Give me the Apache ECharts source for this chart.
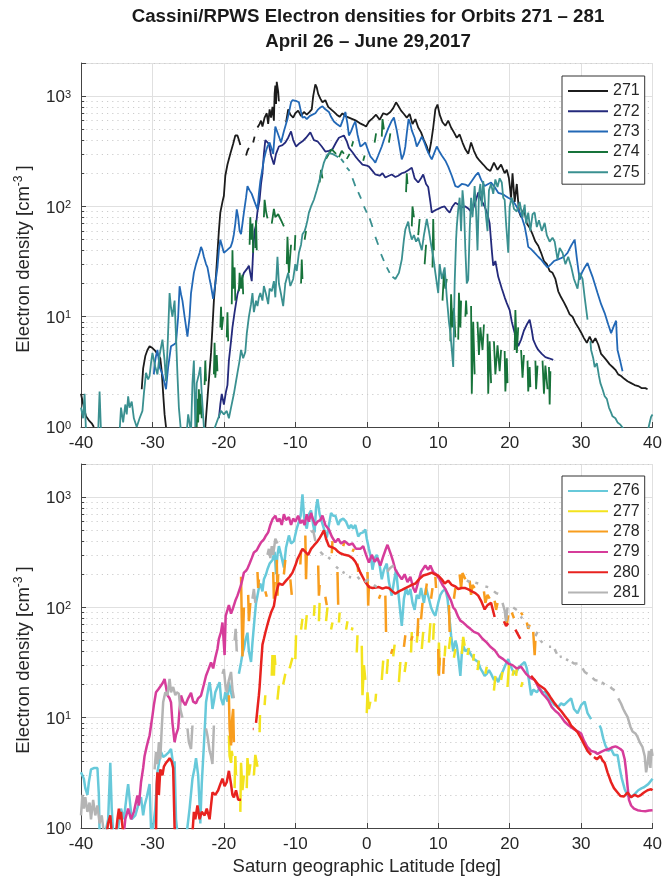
<!DOCTYPE html>
<html>
<head>
<meta charset="utf-8">
<script src="https://cdn.jsdelivr.net/npm/echarts@6/dist/echarts.min.js"></script>
<style>
  html, body { margin: 0; padding: 0; background: #fff; }
  #chart { width: 665px; height: 879px; }
</style>
</head>
<body>
<div id="chart"></div>
<script>
// orbit names, one panel each
var topOrbits = ['271', '272', '273', '274', '275'];
var botOrbits = ['276', '277', '278', '279', '280', '281'];
var orbitColors = {
  '271': '#1c1c1c', '272': '#242a7c', '273': '#2268b6', '274': '#17733a', '275': '#3a9090',
  '276': '#67c9da', '277': '#f3e31e', '278': '#f89d1e', '279': '#d63c9a', '280': '#e8221f', '281': '#b4b4b4'
};
var xTicks = [-40, -30, -20, -10, 0, 10, 20, 30, 40];
var minorVals = [2, 3, 4, 5, 6, 7, 8, 9, 20, 30, 40, 50, 60, 70, 80, 90, 200, 300, 400, 500, 600, 700, 800, 900, 2000];

// [latitude deg, electron density cm^-3], null = data gap
var ne271 = [[-40,2.0],[-39.6,1.5],[-39.3,1.25],[-38.9,1.15],[-38.5,1.08],[-38.2,1.0],null,
[-31.5,2.2],[-31.3,3.4],[-31.0,4.4],[-30.7,5.0],[-30.4,5.4],[-30.0,5.2],[-29.6,4.9],[-29.2,4.5],[-28.9,4.2],[-28.7,3.2],[-28.5,2.0],[-28.3,1.3],[-28.1,1.0],null,
[-22.6,1.0],[-22.2,2.2],[-21.8,4.7],[-21.6,8],[-21.4,14],[-21.1,24],[-20.9,38],[-20.7,60],[-20.5,88],[-20.2,110],[-20.0,125],[-19.8,190],[-19.5,240],[-19.1,300],[-18.7,370],[-18.4,440],[-18.1,440],[-17.9,400],[-17.7,360],null,
[-16.9,290],[-16.7,320],[-16.5,340],null,[-15.9,380],[-15.7,430],null,
[-15.3,520],[-15.0,560],[-14.8,600],[-14.6,530],[-14.3,640],[-14.0,700],[-13.8,560],[-13.6,760],[-13.4,640],[-13.2,800],[-13.0,600],[-12.9,1050],[-12.8,1250],[-12.7,850],[-12.6,1350],[-12.4,1100],[-12.3,900],null,
[-11.3,580],[-11.0,760],[-10.7,680],[-10.3,640],[-10.0,700],[-9.6,740],[-9.2,660],[-8.8,720],[-8.4,680],[-8.0,720],[-7.7,760],[-7.5,1000],[-7.2,1280],[-7.0,1200],[-6.8,1050],[-6.5,950],[-6.2,880],[-5.8,920],[-5.4,800],[-5.0,760],[-4.6,720],[-4.2,680],[-3.8,650],[-3.4,700],[-3.0,660],[-2.5,640],[-2.0,620],[-1.5,600],[-1.0,570],[-0.5,550],[-0.1,530],[0.3,590],[0.8,630],[1.3,680],[1.8,610],[2.3,700],[2.8,680],[3.3,720],[3.7,780],[4.1,880],[4.4,820],[4.8,740],[5.2,690],[5.6,640],[6.0,690],[6.4,560],[6.8,620],[7.2,520],[7.6,470],[8.0,400],[8.4,350],[8.7,300],[9.0,380],[9.3,520],[9.6,760],[9.9,840],[10.2,680],[10.6,580],[11.0,540],[11.4,600],[11.8,520],[12.2,470],[12.6,420],[13.0,450],[13.4,380],[13.8,330],[14.2,300],[14.6,380],[15.0,320],[15.4,280],[15.8,260],[16.3,240],[16.8,220],[17.3,210],[17.8,250],[18.3,215],[18.8,240],[19.3,200],[19.6,215],[19.9,180],[20.2,120],[20.4,200],[20.7,110],[21.0,160],[21.3,90],[21.6,80],[22.0,95],[22.4,70],[22.8,64],[23.2,56],[23.6,48],[24.0,44],[24.4,38],[24.8,32],[25.2,30],[25.6,26],[26.0,25],[26.4,22],[26.8,17],[27.2,15],[27.6,13.5],[28.0,12],[28.4,10.5],[28.8,10],[29.2,8.8],[29.6,8],[30.0,7.2],[30.4,6.4],[30.8,5.8],[31.2,6.6],[31.6,5.8],[32.0,6.4],[32.4,5.6],[32.8,4.6],[33.2,4.3],[33.6,4.0],[34.0,3.7],[34.4,3.5],[34.8,3.3],[35.2,3.0],[35.6,2.9],[36.0,2.75],[36.5,2.6],[37.0,2.5],[37.5,2.4],[38.0,2.35],[38.5,2.25],[39.0,2.25],[39.3,2.2]];

var ne272 = [[-20.7,1.2],[-20.5,1.6],[-20.3,2.0],[-20.0,1.6],[-19.7,2.1],[-19.5,2.4],[-19.3,4.0],[-19.0,6.0],[-18.8,8.0],[-18.5,11],[-18.1,16],[-17.7,20],[-17.2,25],[-16.8,27],[-16.5,29],[-16.1,21],[-15.9,40],[-15.7,60],[-15.5,68],[-15.3,90],[-15.0,115],[-14.8,160],[-14.6,200],[-14.4,300],[-14.2,400],[-14.0,390],[-13.7,370],[-13.4,290],[-13.0,240],[-12.7,300],[-12.3,350],[-11.8,360],[-11.4,380],[-11.0,420],[-10.6,480],[-10.3,400],[-9.9,350],[-9.5,370],[-9.0,390],[-8.5,420],[-7.9,470],[-7.4,400],[-6.9,390],[-6.3,350],[-5.8,315],[-5.3,320],[-4.8,330],[-4.3,380],[-3.9,420],[-3.2,440],[-2.8,390],[-2.5,340],[-2.0,310],[-1.6,285],[-1.1,260],[-0.6,240],[0.0,235],[0.3,230],[0.8,210],[1.2,195],[1.8,190],[2.2,200],[2.6,183],[3.1,190],[3.5,195],[4.0,185],[4.4,190],[4.9,200],[5.4,205],[5.9,215],[6.3,225],[6.7,180],[7.2,165],[7.6,180],[7.9,195],[8.3,160],[8.6,150],[8.9,110],[9.1,88],[9.5,92],[10.0,95],[10.4,98],[10.9,100],[11.3,92],[11.6,88],[12.0,100],[12.4,108],[12.8,104],[13.3,98],[13.8,100],[14.2,96],[14.7,88],[15.2,110],[15.6,134],[16.0,115],[16.5,100],[16.9,85],[17.2,70],[17.5,40],[17.7,29],[18.0,32],[18.4,23],[18.9,18],[19.3,15],[19.6,13.3],[20.0,11.5],[20.3,9],[20.7,7.1],[21.0,6],[21.2,5.4],[21.6,6.2],[22.0,7.5],[22.4,8.5],[22.8,9.4],[23.1,7.5],[23.3,6.2],[23.7,5.4],[24.0,5.0],[24.5,4.6],[25.0,4.3],[25.5,4.2],[26.1,4.06]];

var ne273 = [[-29.8,3.0],[-29.7,3.7],[-29.5,4.4],[-29.3,5.0],[-29.1,4.0],[-29.0,3.5],[-28.6,3.0],[-28.1,2.2],[-27.8,3.5],[-27.4,5.4],[-27.0,5.6],[-26.7,5.8],[-26.4,10],[-26.2,18.9],[-26.0,16],[-25.8,14],[-25.5,10],[-25.1,6.6],[-24.8,10],[-24.6,16.4],[-24.2,25],[-23.9,30],[-23.7,33],[-23.4,38],[-23.2,43],[-23.0,40],[-22.8,35],[-22.5,30],[-22.3,28],[-22.0,22],[-21.8,19],[-21.5,14.5],[-21.2,20],[-20.9,28],[-20.7,40],[-20.5,50],[-20.3,45],[-20.0,38],[-19.6,40],[-19.05,43],[-18.8,48],[-18.6,56],[-18.4,70],[-18.2,94],[-18.0,80],[-17.8,60],[-17.6,56],[-17.4,70],[-17.2,88],[-16.9,120],[-16.7,153],[-16.4,140],[-16.1,130],[-15.7,110],[-15.3,94],[-15.1,130],[-14.9,170],[-14.6,220],[-14.4,267],[-14.1,320],[-13.9,350],[-13.6,380],[-13.4,370],[-13.1,300],[-12.8,530],[-12.4,450],[-12.0,380],[-11.6,480],[-11.1,620],[-10.8,760],[-10.6,880],[-10.4,920],[-10.2,950],[-9.8,900],[-9.5,880],[-9.2,720],[-9.0,640],[-8.7,650],[-8.4,620],[-8.0,660],[-7.6,680],[-7.2,700],[-6.8,760],[-6.5,790],[-6.2,810],[-5.8,760],[-5.3,720],[-5.0,650],[-4.6,590],[-4.2,560],[-3.7,530],[-3.3,620],[-3.0,720],[-2.7,560],[-2.5,440],[-2.2,480],[-1.9,540],[-1.6,590],[-1.3,450],[-0.9,350],[-0.6,360],[-0.2,380],[0.2,320],[0.5,285],[0.9,265],[1.2,250],[1.6,290],[2.1,350],[2.5,420],[3.0,510],[3.5,600],[3.8,640],[4.0,660],[4.2,490],[4.5,380],[4.9,267],[5.2,300],[5.4,350],[5.6,460],[5.85,620],[6.1,560],[6.3,490],[6.7,420],[7.0,350],[7.3,380],[7.7,430],[8.0,390],[8.4,330],[8.8,290],[9.1,267],[9.4,300],[9.8,350],[10.1,320],[10.5,290],[11.0,260],[11.4,230],[11.9,190],[12.4,153],[12.8,150],[13.3,160],[13.8,158],[14.2,153],[14.7,170],[15.2,190],[15.6,203],[16.0,175],[16.5,153],[17.0,160],[17.4,165],[17.9,150],[18.4,133],[18.9,130],[19.3,126],[19.8,120],[20.3,115],[20.8,104],[21.2,94],[21.7,80],[22.1,66],[22.4,52],[22.6,43],[23.0,41],[23.5,38],[24.0,35],[24.4,33],[24.9,30],[25.3,28],[25.8,30],[26.2,32],[26.7,33],[27.2,34],[27.6,35],[28.1,38],[28.6,44],[29.1,50],[29.4,34],[29.8,21.6],[30.1,25],[30.5,28],[30.9,30.7],[31.2,27],[31.6,23],[32.0,19],[32.3,16.4],[32.8,13],[33.3,10.8],[33.8,8.5],[34.2,7.1],[34.6,8.3],[34.9,9.2],[35.0,6.5],[35.1,5.0],[35.5,3.9],[35.8,3.2]];

var ne274 = [[-23.8,1.0],[-23.7,1.8],[-23.6,1.1],[-23.5,2.2],[-23.4,1.3],[-23.3,2.0],[-23.1,1.2],null,
[-22.7,2.4],[-22.6,4.0],[-22.5,2.6],null,[-21.4,3.0],[-21.3,5.8],[-21.2,2.8],[-21.0,4.5],[-20.9,3.2],null,
[-20.5,8],[-20.4,12.3],[-20.3,7.6],[-20.1,10],null,[-19.6,6.5],[-19.5,11],[-19.4,6],null,
[-18.9,13],[-18.8,40],[-18.7,18],[-18.5,28],[-18.4,14],null,[-17.9,17],[-17.8,25],[-17.6,18],[-17.4,24],[-17.3,16],null,
[-16.4,45],[-16.3,80],[-16.2,50],[-16.0,70],[-15.9,38],null,[-15.6,42],[-15.5,75],[-15.4,40],null,
[-14.4,80],[-14.3,115],[-14.1,90],[-13.9,78],null,[-13.3,70],[-13.0,95],[-12.8,80],[-12.4,85],[-12.0,75],[-11.6,66],null,
[-11.2,30],[-11.1,53],[-10.9,25],[-10.6,45],null,[-10.1,40],[-10.0,55],null,[-9.2,20],[-9.1,33],[-9.0,22],null,[-8.7,50],[-8.5,60],null,
[-6.6,165],[-6.4,215],[-6.2,180],null,[-5.7,270],[-5.3,300],[-4.9,330],[-4.5,310],[-4.3,300],null,[-3.9,280],[-3.5,320],[-3.2,300],null,
[-2.8,270],[-2.4,300],null,[-2.1,350],[-1.9,390],null,[-0.5,260],[-0.3,290],null,[1.1,380],[1.3,460],null,[2.1,430],[2.2,620],[2.4,500],null,
[3.1,380],[3.3,460],null,[5.5,135],[5.6,200],[5.7,160],null,[6.3,66],[6.4,100],[6.6,80],null,[7.2,55],[7.4,77],null,[8.1,30],[8.3,45],null,
[9.2,28],[9.3,77],[9.4,40],null,[10.6,14],[10.8,25],[11.0,18],[11.2,22],null,[11.7,6],[11.8,16],[12.0,8],[12.2,12],[12.4,6.5],null,
[12.8,6.2],[12.9,16.5],[13.1,8],[13.2,14],null,[13.8,10],[13.9,14],[14.0,10.5],null,[14.6,12.5],[14.7,2.0],[14.9,9],[15.1,3],null,
[15.5,9],[15.7,4.5],[15.9,8],[16.2,5],[16.4,8.5],null,[16.9,7],[17.0,2.0],[17.2,6],[17.4,2.5],null,[17.8,6],[18.0,3],[18.3,5.5],[18.6,3.2],[18.8,5],null,
[19.3,4.9],[19.4,2.1],[19.6,4.2],[19.7,2.5],null,[20.7,5],[20.8,11.5],[21.0,4.7],[21.2,8],null,[21.6,5],[21.8,2.8],[22.0,4.5],null,
[22.5,4],[22.6,2.1],[22.8,3.5],[22.9,2.3],null,[23.6,4],[23.7,2.2],[23.9,3.6],null,[24.6,4],[24.8,2.0],[25.0,3.6],[25.3,2.2],null,[25.5,3.5],[25.6,1.6],[25.7,3.2]];

var ne275 = [[-40,1.5],[-39.7,1.2],[-39.5,2.0],[-39.3,0.9],[-38.5,0.8],[-37.6,0.9],[-37.4,2.1],[-37.2,0.9],[-36,0.8],[-34.6,0.9],[-34.4,1.5],[-34.1,1.1],[-33.8,1.6],[-33.6,1.3],[-33.4,1.9],[-33.2,1.5],[-32.9,1.7],[-32.6,1.2],[-32.2,1.0],[-31.8,1.2],[-31.4,1.4],[-31.2,2.0],[-30.9,3.1],[-30.6,2.7],[-30.4,2.9],[-30.2,3.8],[-30.0,4.7],[-29.6,3.5],[-29.3,3.0],[-29.0,4.5],[-28.6,6.2],[-28.3,4],[-28.1,2.6],[-27.9,5],[-27.6,16.4],[-27.4,12],[-27.2,10],[-26.9,14],[-26.7,6.6],[-26.5,3],[-26.3,1.5],[-26.0,0.9],[-25.2,0.9],[-25.0,1.3],[-24.6,0.9],[-24.4,2.5],[-24.2,4],[-24.0,1.0],[-23.8,2.5],[-23.5,3.0],[-23.3,3.5],[-23.1,2.0],[-22.8,1.0],[-22.4,0.9],[-21.5,0.9],[-20.8,1.2],[-20.4,1.4],[-20.0,1.3],[-19.6,1.4],[-19.3,1.2],[-19.0,1.5],[-18.6,2.0],[-18.3,2.6],[-18.1,3.1],[-17.8,4.0],[-17.6,5.0],[-17.3,4.2],[-17.0,4.8],[-16.8,7],[-16.5,10],[-16.2,13],[-16.0,16.4],[-15.8,11],[-15.5,14],[-15.3,12.5],[-15.1,15],[-14.9,16.4],[-14.6,14],[-14.4,19],[-14.1,16],[-13.8,13],[-13.6,18],[-13.3,17],[-13.0,21],[-12.8,15],[-12.5,35],[-12.3,20],[-12.0,16],[-11.7,12.5],[-11.4,20],[-11.0,25],[-10.7,19],[-10.3,22],[-10.0,30],[-9.8,26],[-9.5,38],[-9.2,45],[-9.0,56],[-8.7,60],[-8.5,66],[-8.3,75],[-8.1,88],[-7.8,100],[-7.4,115],[-7.0,140],[-6.7,165],[-6.3,210],[-6.0,250],[-5.6,290],[-5.3,305],[-4.8,300],[-4.4,290],[-4.0,280],null,
[-3.6,270],[-3.2,250],null,[-2.8,225],[-2.4,210],null,[-2.0,180],[-1.6,153],null,[-1.2,135],[-0.8,118],null,[-0.4,100],[0.0,88],null,[0.4,78],[0.8,65],null,[1.2,53],[1.6,45],null,[2.0,37],[2.4,32],null,[2.8,28],[3.2,25],null,
[3.6,23],[4.0,22],[4.2,21.7],[4.5,25],[4.9,33],[5.2,50],[5.4,62],[5.8,73],[6.0,60],[6.3,50],[6.6,55],[6.9,48],[7.2,52],[7.7,40],[8.0,55],[8.4,77],[8.7,60],[9.0,45],[9.3,35],[9.6,25],[10.0,16.4],[10.2,30],[10.5,22],[10.9,28],[11.2,15],[11.5,9],[11.7,7.1],[11.9,5],[12.1,3.5],[12.3,20],[12.5,50],[12.6,66],[12.8,94],[13.0,120],[13.2,60],[13.4,140],[13.6,100],[13.8,40],[14.0,20],[14.2,21.7],[14.4,60],[14.6,120],[14.8,80],[15.1,153],[15.3,90],[15.5,40],[15.7,130],[15.9,160],[16.1,100],[16.3,170],[16.5,120],[16.7,80],[16.9,60],[17.1,140],[17.4,160],[17.7,130],[18.0,176],[18.3,150],[18.6,180],[18.9,165],[19.1,120],[19.3,115],[19.5,70],[19.8,38],[20.0,100],[20.3,120],[20.6,95],[21.0,90],[21.4,110],[21.8,80],[22.1,104],[22.3,70],[22.6,88],[22.9,60],[23.2,85],[23.5,88],[23.8,65],[24.1,75],[24.5,60],[24.9,71],[25.2,55],[25.6,48],[26.0,52],[26.3,48],[26.7,33],[27.0,42],[27.4,38],[27.8,30],[28.2,35],[28.6,28.6],[29.0,22],[29.5,18],[29.8,25],[30.2,22],[30.5,15],[30.9,9.4],null,
[31.3,6],[31.4,5.0],[31.7,4.2],[31.9,3.5],[32.2,3.8],[32.5,2.9],[32.7,2.5],[33.0,2.2],[33.3,1.9],[33.6,1.8],[33.9,1.5],[34.2,1.35],[34.4,1.25],[34.8,1.2],[35.1,1.1],[35.5,1.05],[36.0,0.95],[36.5,0.9],[39.3,0.9],[39.6,1.1],[39.8,1.24],[40,1.3]];

var ne276 = [[-40,3.2],[-39.6,2.8],[-39.4,2.3],[-39.1,2.0],[-38.9,2.6],[-38.6,3.4],[-38.2,3.5],[-37.7,3.5],[-37.5,2.0],[-37.4,0.9],[-36.6,0.9],[-36.2,1.2],[-35.9,3.9],[-35.7,1.5],[-35.5,0.9],[-34.8,1.0],[-34.4,1.5],[-34.0,1.2],[-33.6,2.0],[-33.4,2.5],[-33.1,1.6],[-32.9,1.2],[-32.4,1.3],[-32.0,1.6],[-31.6,1.9],[-31.3,1.3],[-31.1,1.6],[-30.8,1.9],[-30.4,2.5],[-30.2,1.0],[-30.0,0.9],[-29.6,1.5],[-29.3,3.2],[-29.0,4.2],[-28.8,4.9],[-28.5,4.4],[-28.1,4.6],[-27.8,4.8],[-27.4,5.2],[-27.1,3.8],[-26.9,4.0],[-26.7,1.2],[-26.5,0.9],[-25.2,0.9],[-24.8,1.5],[-24.4,2.8],[-24.1,3.5],[-23.9,4.3],[-23.6,3.0],[-23.4,1.6],[-23.3,1.1],[-23.1,2.5],[-22.8,5.6],[-22.6,10],[-22.5,13.8],[-22.2,18],[-22.0,21],[-21.8,17],[-21.6,12],[-21.4,14],[-21.2,17],[-20.9,19],[-20.6,21],[-20.4,15],[-20.1,13],[-19.8,17],[-19.5,14],[-19.3,21],[-19.0,17],[-18.8,15],null,
[-17.9,25],[-17.6,31.7],[-17.4,38],[-17.2,42],[-17.0,50],[-16.7,59],[-16.5,40],[-16.2,32],[-16.0,48],[-15.7,80],[-15.5,110],[-15.3,128],[-15.1,150],[-14.9,165],[-14.6,140],[-14.4,180],[-14.1,200],[-13.9,222],[-13.6,250],[-13.2,270],[-12.9,320],[-12.7,200],[-12.5,300],[-12.3,360],[-12.0,300],[-11.6,230],[-11.3,350],[-10.9,450],[-10.6,380],[-10.2,400],[-9.8,520],[-9.5,600],[-9.25,680],[-9.1,900],[-9.0,1060],[-8.8,700],[-8.7,600],[-8.4,520],[-8.1,700],[-7.8,760],[-7.5,560],[-7.3,480],[-7.1,800],[-6.9,960],[-6.6,700],[-6.3,600],[-6.0,520],[-5.6,430],[-5.3,560],[-5.0,720],[-4.7,680],[-4.4,680],[-4.0,560],[-3.7,620],[-3.3,640],[-2.9,600],[-2.5,520],[-2.2,560],[-1.9,520],[-1.6,560],[-1.2,440],[-0.9,470],[-0.5,480],[-0.2,510],[0.0,420],[0.3,340],[0.6,280],[0.8,220],[1.1,280],[1.4,300],[1.8,240],[2.1,180],[2.4,220],[2.8,250],[3.1,170],[3.5,128],[3.8,170],[4.1,220],[4.4,140],[4.7,90],[4.9,68],[5.2,120],[5.5,150],[5.8,130],[6.1,147],[6.4,110],[6.7,95],[7.0,130],[7.3,120],[7.6,150],[8.0,110],[8.3,150],[8.7,120],[9.0,100],[9.3,90],[9.6,84],[10.0,110],[10.3,130],[10.6,140],[11.0,147],[11.3,120],[11.5,90],[11.8,56],[12.1,40],[12.4,50],[12.6,45],[12.8,36],[13.1,24],[13.3,38],[13.5,45],[13.8,40],[14.2,42],[14.5,38],[14.7,39],[15.0,34],[15.3,33],[15.6,32],[15.9,28],[16.2,26],[16.5,24],[16.8,25],[17.1,27],[17.4,25],[17.8,22],[18.1,23],[18.4,21],[18.7,24],[19.0,26],[19.3,29],[19.6,32],[19.8,34],[20.1,30],[20.4,27],[20.8,25],[21.2,28],[21.6,30],[22.1,32],[22.4,28],[22.7,22],[23.0,16],[23.3,18],[23.8,17],[24.2,18.5],[24.6,17],[25.0,17],[25.4,15],[25.9,14],[26.3,13],[26.8,12.5],[27.2,13.5],[27.6,13],[28.1,14],[28.6,15],[29.0,12],[29.5,11],[30.0,13],[30.5,14],[30.9,11],[31.4,9.7],null,
[32.6,8.5],[32.8,7.9],[33.1,6.5],[33.4,5.6],[33.8,5.0],[34.2,5.2],[34.6,4.6],[35.1,4.6],[35.4,3.5],[35.7,2.8],[36.1,2.25],[36.5,1.97],[36.9,1.9],[37.4,2.0],[38.0,2.2],[38.5,2.3],[38.8,2.34],[39.4,2.5],[40,2.8]];

var ne277 = [[-19.3,6.9],[-19.2,4.5],[-19.0,3.9],[-18.9,5.0],[-18.8,4.5],null,[-18.5,2.3],[-18.4,4.5],[-18.3,3.0],null,
[-17.7,1.4],[-17.6,3.9],[-17.4,2.2],[-17.2,3.0],null,[-16.8,2.3],[-16.7,4.3],[-16.5,3.0],[-16.3,3.8],null,[-15.8,3.0],[-15.6,4.6],[-15.3,3.6],null,
[-15.0,7.4],[-14.95,10.6],null,[-14.3,13],[-14.2,16],null,[-13.3,24],[-13.2,37],null,[-13.0,24],[-12.9,37],[-12.8,30],null,[-12.5,14.6],[-12.3,19.6],null,
[-11.7,20],[-11.4,25],null,[-10.8,28],[-10.4,35],null,[-10.0,34],[-9.9,56],null,[-9.2,63],[-9.0,79],null,[-8.6,63],[-8.4,85],null,[-7.4,84],[-7.3,105],null,
[-6.7,75],[-6.6,110],null,[-5.7,75],[-5.5,100],null,[-5.0,63],[-4.8,73],null,[-3.9,73],[-3.8,90],null,[-2.9,63],[-2.7,75],null,[-2.1,62],[-2.0,66],null,
[-1.4,39],[-1.3,56],null,[-0.7,45],[-0.6,16],[-0.4,30],[-0.2,22],null,[0.0,11],[0.1,17],[0.3,12],[0.5,14],null,[1.2,14],[1.3,16.5],null,
[2.1,22],[2.3,33],null,[2.8,25],[2.95,34],null,[3.7,36],[3.9,46],null,[4.5,21],[4.7,32],null,[5.3,26],[5.5,32],null,[6.2,39],[6.3,60],null,
[7.0,48],[7.2,68],null,[7.7,42],[7.9,60],null,[8.7,48],[8.9,72],null,[9.3,51],[9.4,72],null,[10.0,25],[10.1,48],[10.2,30],null,[10.9,36],[11.0,45],null,
[11.5,42],[11.7,54],null,[12.2,35],[12.4,42],null,[13.3,38],[13.5,54],[13.7,45],null,[14.1,37],[14.3,43],null,[14.9,33],[15.0,38],null,[15.5,27],[15.7,33],null,
[16.6,25],[16.8,29],null,[17.8,17.6],[18.0,24],null,[18.8,22],[19.0,26],null,[19.7,19],[19.9,30],null,[20.4,24],[20.6,27],null,[20.9,24],[21.0,28],null,[21.6,19],[21.8,21]];

var ne278 = [[-19.3,16],[-19.2,8],[-19.0,5.6],[-18.9,9],[-18.7,12],[-18.6,6],null,[-17.6,190],[-17.5,80],[-17.4,36],[-17.3,60],[-17.2,100],null,
[-16.6,130],[-16.5,75],[-16.3,110],null,[-15.3,210],[-15.2,150],[-15.1,180],null,[-14.2,140],[-14.0,125],null,[-13.1,210],[-13.0,120],[-12.9,170],null,
[-12.6,270],[-12.5,128],[-12.4,200],null,[-11.6,200],[-11.4,270],null,[-10.7,180],[-10.5,130],null,[-9.3,245],[-9.2,330],null,[-8.6,450],[-8.5,180],[-8.4,300],null,
[-6.8,240],[-6.7,128],[-6.6,160],null,[-5.8,125],[-5.6,105],null,[-4.9,310],[-4.8,400],null,[-4.1,210],[-4.0,106],null,[-3.3,360],[-3.1,400],null,
[-2.0,320],[-1.8,340],null,[-1.3,250],[-1.2,210],null,[0.1,210],[0.2,104],[0.3,160],null,[1.7,120],[1.9,130],null,[2.6,128],[2.7,60],null,[3.4,38],[3.6,42],null,
[5.2,44],[5.4,56],null,[6.2,50],[6.4,55],null,[7.1,55],[7.2,80],null,[7.6,78],[7.8,110],null,[8.2,130],[8.4,165],null,[9.0,120],[9.2,150],null,[9.6,190],[9.7,150],null,
[10.0,42],[10.1,24],[10.2,35],null,[10.7,25],[10.8,35],null,[11.5,105],[11.6,60],null,[12.2,120],[12.4,150],null,[13.0,200],[13.2,150],[13.4,205],[13.8,180],null,
[14.4,175],[14.6,130],[14.8,160],[15.1,150],null,[16.4,140],[16.6,110],[16.9,130],[17.2,120],null,[17.9,115],[18.1,95],[18.3,110],null,[19.4,90],[19.6,70],[19.8,85],null,
[20.3,90],[20.6,80],null,[21.6,90],[21.8,85],null,[22.4,73],[22.6,64],[22.8,70],null,[23.3,60],[23.5,37],[23.6,50]];

var ne279 = [[-34.0,0.9],[-33.8,1.2],[-33.4,1.5],[-33.0,1.2],[-32.6,1.4],[-32.1,1.97],[-31.9,1.6],[-31.6,2.6],[-31.3,3.5],[-31.1,4.5],[-30.8,5.5],[-30.6,6.2],[-30.4,6.9],[-30.2,8.5],[-30.0,10.4],[-29.8,13],[-29.5,17],[-29.2,18],[-28.8,19.6],[-28.5,21],[-28.3,22.5],[-28.1,19],[-27.9,16],[-27.6,15],[-27.4,13.8],[-27.2,9],[-26.9,6],[-26.7,7],[-26.4,8],[-26.2,12],[-26.0,15.9],[-25.7,14],[-25.4,13],[-25.0,15],[-24.6,16.8],[-24.3,14],[-23.9,13.5],[-23.6,15],[-23.2,15.9],[-22.8,20],[-22.5,24],[-22.2,27],[-21.8,31.7],[-21.5,28],[-21.2,35],[-20.9,42],[-20.7,52],[-20.4,60],[-20.2,73],[-19.9,37],[-19.75,84],[-19.5,95],[-19.3,105],[-19.0,88],[-18.8,95],[-18.4,115],[-18.1,128],[-17.9,140],[-17.6,160],[-17.4,180],[-17.2,207],[-16.9,215],[-16.7,225],[-16.4,250],[-16.1,280],[-15.8,315],[-15.4,330],[-15.1,360],[-14.8,390],[-14.4,415],[-14.1,450],[-13.8,480],[-13.5,560],[-13.2,630],[-12.8,680],[-12.5,600],[-12.2,640],[-11.9,560],[-11.6,700],[-11.3,620],[-10.9,660],[-10.6,560],[-10.3,640],[-10.0,600],[-9.6,680],[-9.3,580],[-9.0,620],[-8.7,560],[-8.4,700],[-8.1,600],[-7.8,720],[-7.5,620],[-7.2,560],[-6.9,600],[-6.5,620],[-6.2,680],[-5.8,560],[-5.3,510],[-4.9,440],[-4.4,390],[-4.0,420],[-3.6,380],[-3.1,400],[-2.5,370],[-2.0,380],[-1.5,340],[-0.9,340],[-0.5,360],[-0.1,300],[0.3,255],[0.7,300],[1.1,260],[1.5,280],[1.9,240],[2.3,290],[2.6,330],[2.9,370],[3.1,380],[3.4,300],[3.7,260],[4.0,220],[4.4,200],[4.9,180],[5.3,200],[5.7,170],[6.1,190],[6.5,150],[6.8,137],[7.2,170],[7.6,210],[8.0,230],[8.2,240],[8.6,220],[8.9,240],[9.3,210],[9.7,200],[10.2,180],[10.6,160],[11.0,147],[11.4,130],[11.8,115],[12.1,100],[12.4,95],[12.8,82],[13.1,76],[13.5,73],[14.0,68],[14.5,64],[15.0,60],[15.6,58],[16.2,52],[16.8,48],[17.3,44],[17.9,41],[18.5,36],[19.1,34],[19.8,31],[20.4,30],[21.0,28],[21.6,29],[22.3,25],[22.9,23],[23.5,22],[24.0,19],[24.6,16.5],[25.0,15.5],[25.4,14.4],[25.9,12.5],[26.4,11.5],[26.8,11],[27.2,10.2],[27.7,9.2],[28.2,8.6],[28.6,8.2],[29.1,7.8],[29.6,7.5],[30.0,7.2],[30.4,6.2],[30.9,5.4],[31.4,5.0],[31.9,4.9],[32.3,4.7],[32.8,4.9],[33.4,5.1],[33.9,5.2],[34.4,5.4],[34.8,5.5],[35.1,5.4],[35.5,5.2],[35.8,5.0],[36.1,4.2],[36.3,3.3],[36.5,2.4],[36.7,1.8],[37.0,1.6],[37.4,1.5],[37.9,1.45],[38.4,1.43],[39.0,1.42],[39.5,1.44],[40,1.45]];

var ne280 = [[-36.4,0.9],[-36.2,1.1],[-35.9,1.3],[-35.7,0.9],[-35.1,0.9],[-34.9,1.2],[-34.7,1.5],[-34.5,1.2],[-34.4,1.4],[-34.1,0.9],null,
[-29.5,0.9],[-29.4,2.5],[-29.3,3.2],[-29.1,2.0],[-28.9,3.4],[-28.6,3.0],[-28.4,3.6],[-28.1,3.9],[-27.8,4.1],[-27.6,4.3],[-27.3,4.0],[-27.1,3.5],[-26.9,1.0],[-26.8,0.9],null,
[-24.4,0.9],[-24.2,1.4],[-24.0,1.2],[-23.7,1.6],[-23.4,1.2],[-23.1,1.4],[-22.7,1.3],[-22.4,1.5],[-22.0,1.2],[-21.8,1.6],[-21.6,2.1],[-21.2,2.0],[-20.8,2.2],[-20.5,2.5],[-20.2,2.8],[-19.9,2.4],[-19.6,2.6],[-19.3,3.3],[-19.0,2.5],[-18.8,2.0],[-18.6,1.9],[-18.3,2.2],[-18.0,1.8],[-17.6,1.8],null,
[-15.95,7.9],[-15.85,7.9],null,
[-15.5,9],[-15.3,12],[-15.1,16],[-15.0,19],[-14.8,30],[-14.6,46],[-14.4,52],[-14.2,59],[-13.9,70],[-13.7,78],[-13.4,90],[-13.0,103],[-12.8,125],[-12.5,150],[-12.3,165],[-11.8,160],[-11.3,175],[-10.8,190],[-10.4,207],[-10.0,240],[-9.7,275],[-9.3,310],[-9.0,340],[-8.6,320],[-8.2,300],[-7.8,340],[-7.4,365],[-7.0,390],[-6.7,415],[-6.3,460],[-6.0,500],[-5.7,420],[-5.3,360],[-4.8,350],[-4.4,340],[-4.0,320],[-3.7,310],[-3.1,300],[-2.5,295],[-2.0,280],[-1.6,260],[-1.2,230],[-0.9,207],[-0.5,185],[-0.2,170],[0.3,153],[0.8,150],[1.3,152],[1.7,153],[2.2,148],[2.7,152],[3.1,150],[3.6,140],[4.0,133],[4.5,140],[5.0,145],[5.4,150],[5.9,155],[6.3,160],[6.8,165],[7.3,180],[7.9,195],[8.5,200],[9.1,207],[9.5,200],[10.0,195],[10.5,180],[10.9,165],[11.4,175],[11.9,160],[12.4,155],[12.8,147],[13.3,150],[13.8,150],[14.3,145],[14.7,140],[15.2,135],[15.6,128],[16.0,115],[16.5,96],[16.9,105],[17.4,110],[17.9,82],null,
[19.2,75],[19.5,68],[19.8,72],null,[20.8,63],[21.1,58],[21.5,52],null,
[23.0,24],[23.5,22],[24.0,20],[24.5,19],[24.9,18.2],[25.4,16.5],[25.8,15],[26.3,13.5],[26.7,12.5],[27.2,11.5],[27.7,10.4],[28.2,9.5],[28.6,8.5],[29.0,8.0],[29.5,7.4],[30.0,6.5],[30.5,5.6],[30.9,5.0],[31.4,4.6],null,
[31.8,4.4],[32.2,4.2],[32.7,4.5],[33.0,4.1],[33.3,3.9],[33.7,3.2],[34.2,2.6],[34.6,2.3],[35.1,2.1],[35.5,1.95],[36.0,1.93],[36.5,2.1],[37.0,1.9],[37.5,2.0],[38.0,1.93],[38.4,2.0],[38.8,2.1],[39.3,2.2],[39.8,2.25],[40,2.2]];

var ne281 = [[-40,1.3],[-39.8,2.0],[-39.6,1.5],[-39.4,1.9],[-39.1,1.4],[-38.8,1.7],[-38.6,1.2],[-38.3,1.8],[-38.0,1.3],[-37.7,1.6],[-37.4,1.1],[-37.1,1.3],[-36.8,0.9],null,
[-29.7,3.4],[-29.5,4.9],[-29.3,3.8],[-29.1,6],[-28.9,4.2],[-28.7,8],[-28.5,13.8],[-28.2,17],[-27.9,16],[-27.6,22.5],[-27.4,17],[-27.1,19],[-26.8,16],[-26.6,17],[-26.3,16.5],[-26.1,12],[-25.8,10],null,
[-25.1,8],[-24.9,6],[-24.6,5.2],[-24.4,8.5],null,[-22.5,8],[-22.3,6.9],[-22.0,5],[-21.8,4.5],[-21.6,3.8],[-21.4,8.5],null,
[-20.2,25],[-20.0,27.6],[-19.8,20],[-19.6,17],[-19.3,22],[-19.0,26],[-18.8,18],[-18.6,15],null,[-18.5,50],[-18.35,64],[-18.2,40],null,
[-16.0,120],[-15.8,147],[-15.6,110],null,[-13.9,300],[-13.7,340],[-13.5,280],[-13.3,360],[-13.1,300],[-12.8,420],[-12.5,380],null,
[-7.8,480],[-7.5,500],[-7.2,400],null,[-6.5,320],[-6.1,300],null,[-5.4,285],[-5.1,275],null,[-4.3,235],[-4.0,225],null,[-3.4,210],[-3.1,205],null,
[-2.5,190],[-2.2,187],null,[-1.3,190],[-1.0,180],null,[-0.3,170],[0.0,175],[0.3,180],null,[1.0,160],[1.4,153],null,[2.9,210],[3.1,222],[3.5,235],[3.8,240],null,
[14.0,176],[14.4,170],null,[15.2,168],[15.6,165],null,[16.6,155],[17.0,153],null,[17.8,140],[18.1,135],[18.4,133],null,[19.0,110],[19.3,94],[19.5,75],[19.7,100],null,
[20.5,100],[20.7,100],[21.0,95],null,[21.5,82],[21.8,80],null,[22.5,66],[22.8,68],null,[23.6,55],[23.9,60],null,[24.3,50],[24.6,48],null,[25.5,44],[25.8,44],null,
[26.3,42],[26.6,38],null,[27.0,35.6],[27.3,36],null,[27.9,34],[28.2,33],null,[28.7,32],[29.0,31],[29.5,31],null,[30.2,28],[30.5,26],[30.9,25],null,
[31.6,23],[31.9,22],[32.3,21.7],null,[32.9,21],[33.3,20],null,[34.1,19],[34.4,18.2],[34.7,17.7],null,
[35.2,15],[35.6,13.4],[35.9,12],[36.2,11],[36.5,10.2],[36.9,8.3],[37.2,7.5],[37.6,7.2],[37.9,6.7],[38.2,6],[38.6,5.4],[38.9,4.5],[39.1,3.2],[39.3,3.8],[39.5,5],[39.7,3.5],[39.85,5.2],[40,4.5]];

var orbitData = {
  '271': ne271, '272': ne272, '273': ne273, '274': ne274, '275': ne275,
  '276': ne276, '277': ne277, '278': ne278, '279': ne279, '280': ne280, '281': ne281
};

var FONT = 'Liberation Sans';
var chart = echarts.init(document.getElementById('chart'), null, { renderer: 'canvas' });

function gaps(arr) {
  return arr.map(function (p) { return p === null ? ['-', '-'] : p; });
}

function yLabel(v) {
  var e = Math.round(Math.log10(v));
  if (Math.abs(Math.pow(10, e) - v) > 1e-6 * v) return '';
  return '{b|10}{s|' + e + '}';
}

function makeX(idx, withName) {
  return {
    type: 'value', gridIndex: idx, min: -40, max: 40, interval: 10,
    axisLine: { show: true, onZero: false, lineStyle: { color: '#444', width: 1 } },
    axisTick: { show: true, inside: true, length: 5, lineStyle: { color: '#444' } },
    axisLabel: { fontSize: 17, color: '#262626', margin: 8, fontFamily: FONT },
    splitLine: { show: true, lineStyle: { color: '#e0e0e0', width: 1 } },
    name: withName ? 'Saturn geographic Latitude [deg]' : '',
    nameLocation: 'middle', nameGap: 29,
    nameTextStyle: { fontSize: 18.5, color: '#262626', fontFamily: FONT }
  };
}

function makeY(idx) {
  return {
    type: 'log', logBase: 10, gridIndex: idx, min: 1, max: 2000,
    axisLine: { show: true, onZero: false, lineStyle: { color: '#444', width: 1 } },
    axisTick: { show: true, inside: true, length: 5, lineStyle: { color: '#444' } },
    axisLabel: {
      formatter: yLabel, margin: 10, color: '#262626', padding: [3, 0, 0, 0],
      rich: {
        b: { fontSize: 17, lineHeight: 17, verticalAlign: 'bottom', fontFamily: FONT, color: '#262626' },
        s: { fontSize: 11, lineHeight: 11, verticalAlign: 'top', padding: [0, 0, 12, 0], fontFamily: FONT, color: '#262626' }
      }
    },
    splitLine: { show: true, lineStyle: { color: '#e0e0e0', width: 1 } },
    name: '{n|Electron density [cm}{s|-3}{n| ]}',
    nameLocation: 'middle', nameRotate: 90, nameGap: 47,
    nameTextStyle: {
      padding: [0, 28, 0, 0],
      rich: {
        n: { fontSize: 18.5, color: '#262626', fontFamily: FONT },
        s: { fontSize: 12, color: '#262626', verticalAlign: 'top', padding: [0, 0, 9, 0], fontFamily: FONT }
      }
    }
  };
}

// dotted minor grid and short minor ticks on the log axis
function minorSeries(idx) {
  return [{
    type: 'line', xAxisIndex: idx, yAxisIndex: idx, data: [], silent: true,
    markLine: {
      silent: true, symbol: ['none', 'none'], label: { show: false }, z: 1, animation: false,
      lineStyle: { color: '#cccccc', width: 1, type: [1.2, 4] },
      data: minorVals.map(function (v) { return { yAxis: v }; })
    }
  }, {
    type: 'line', xAxisIndex: idx, yAxisIndex: idx, data: [], silent: true,
    markLine: {
      silent: true, symbol: ['none', 'none'], label: { show: false }, z: 3, animation: false,
      lineStyle: { color: '#444', width: 1, type: 'solid' },
      data: minorVals.map(function (v) { return [{ coord: [-40, v] }, { coord: [-39.55, v] }]; })
    }
  }];
}

function orbitSeries(name, idx, width, z) {
  return {
    name: name, type: 'line', xAxisIndex: idx, yAxisIndex: idx,
    data: gaps(orbitData[name]), symbol: 'none', showSymbol: false,
    connectNulls: false, clip: true, z: z,
    lineStyle: { color: orbitColors[name], width: width },
    itemStyle: { color: orbitColors[name] },
    emphasis: { disabled: true }
  };
}

function makeLegend(names, top) {
  return {
    data: names, orient: 'vertical', left: 562, top: top,
    icon: 'rect', itemWidth: 40, itemHeight: 2, itemGap: 4.3,
    padding: [7, 5, 4, 6],
    borderColor: '#333', borderWidth: 1, backgroundColor: '#fff',
    selectedMode: false,
    textStyle: { fontSize: 16, lineHeight: 16, color: '#262626', fontFamily: FONT }
  };
}

var series = [].concat(minorSeries(0), minorSeries(1));
topOrbits.forEach(function (n, i) { series.push(orbitSeries(n, 0, 1.8, 4 + i)); });
botOrbits.forEach(function (n, i) { series.push(orbitSeries(n, 1, 2.5, 4 + i)); });

var option = {
  animation: false,
  textStyle: { fontFamily: FONT },
  graphic: [{
    type: 'text', x: 368, y: 4,
    style: {
      text: 'Cassini/RPWS Electron densities for Orbits 271 \u2013 281\nApril 26 \u2013 June 29,2017',
      fontSize: 18.7, fontWeight: 'bold', fontFamily: FONT, lineHeight: 25,
      fill: '#1a1a1a', textAlign: 'center', textVerticalAlign: 'top'
    }
  }],
  legend: [makeLegend(topOrbits, 76), makeLegend(botOrbits, 476)],
  grid: [
    { left: 81, top: 63, width: 574, height: 364, containLabel: false },
    { left: 81, top: 464, width: 574, height: 364, containLabel: false }
  ],
  xAxis: [makeX(0, false), makeX(1, true)],
  yAxis: [makeY(0), makeY(1)],
  series: series
};
chart.setOption(option);
</script>
</body>
</html>
